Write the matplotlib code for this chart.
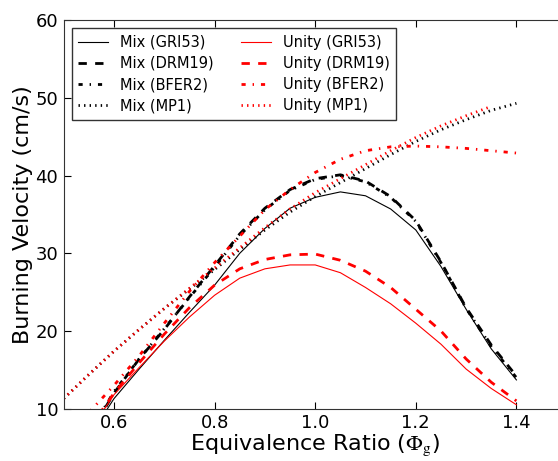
import matplotlib
matplotlib.use('Agg')
import matplotlib.pyplot as plt

# equivalence ratio grid
phi = [0.55, 0.60, 0.65, 0.70, 0.75, 0.80, 0.85, 0.90, 0.95, 1.00,
       1.05, 1.10, 1.15, 1.20, 1.25, 1.30, 1.35, 1.40]

# Mixture-averaged transport
mix_gri53 = [6.3, 11.3, 15.1, 18.8, 22.4, 25.9, 30.0, 33.2, 35.8, 37.2,
             37.9, 37.4, 35.7, 33.0, 28.3, 22.8, 17.7, 13.7]
mix_drm19 = [6.6, 12.0, 16.4, 20.2, 24.4, 28.4, 32.5, 35.8, 38.2, 39.6,
             40.1, 39.3, 37.3, 34.2, 28.9, 23.0, 18.2, 14.2]
mix_bfer2 = [6.8, 12.2, 16.4, 20.3, 24.3, 28.2, 32.3, 35.6, 38.1, 39.5,
             40.0, 39.2, 37.2, 34.1, 28.8, 22.9, 18.0, 14.0]
phi_mp1 = [0.50, 0.55, 0.60, 0.65, 0.70, 0.75, 0.80, 0.85, 0.90, 0.95,
           1.00, 1.05, 1.10, 1.15, 1.20, 1.25, 1.30, 1.35, 1.40]
mix_mp1 = [11.3, 14.4, 17.4, 20.2, 22.9, 25.4, 27.9, 30.5, 33.0, 35.3,
           37.3, 39.1, 40.9, 42.7, 44.4, 45.9, 47.2, 48.4, 49.3]

# Unity Lewis number
uni_gri53 = [7.0, 11.8, 15.3, 18.7, 21.8, 24.6, 26.8, 28.0, 28.5, 28.5,
             27.5, 25.6, 23.5, 21.0, 18.3, 15.1, 12.6, 10.5]
uni_drm19 = [7.4, 12.0, 15.9, 19.6, 23.0, 25.9, 28.0, 29.2, 29.8, 29.9,
             29.1, 27.7, 25.6, 22.8, 20.0, 16.4, 13.4, 11.0]
uni_bfer2 = [9.5, 13.0, 16.8, 21.0, 25.1, 28.8, 32.2, 35.6, 38.2, 40.4,
             42.1, 43.2, 43.7, 43.8, 43.7, 43.5, 43.2, 42.9]
phi_ump1 = phi_mp1[:-1]
uni_mp1 = [11.3, 14.4, 17.4, 20.2, 22.9, 25.5, 28.1, 30.7, 33.3, 35.7,
           37.8, 39.6, 41.4, 43.2, 44.9, 46.4, 47.7, 48.9]

plt.rcParams['mathtext.fontset'] = 'stix'
plt.rcParams['lines.scale_dashes'] = False
dashed = (0, (6, 6))
dashdot = (0, (3, 5, 1, 5))
dotted = (0, (1, 3))

fig = plt.figure(figsize=(5.58, 4.61), dpi=100)
ax = fig.add_axes([0.1142, 0.1135, 0.9014, 0.8427])

ax.plot(phi, mix_gri53, color='k', lw=0.8, label='Mix (GRI53)')
ax.plot(phi, mix_drm19, color='k', lw=2, ls=dashed, label='Mix (DRM19)')
ax.plot(phi, mix_bfer2, color='k', lw=2, ls=dashdot, label='Mix (BFER2)')
ax.plot(phi_mp1, mix_mp1, color='k', lw=2, ls=dotted, label='Mix (MP1)')
ax.plot(phi, uni_gri53, color='r', lw=0.8, label='Unity (GRI53)')
ax.plot(phi, uni_drm19, color='r', lw=2, ls=dashed, label='Unity (DRM19)')
ax.plot(phi, uni_bfer2, color='r', lw=2, ls=dashdot, label='Unity (BFER2)')
ax.plot(phi_ump1, uni_mp1, color='r', lw=2, ls=dotted, label='Unity (MP1)')

ax.set_xlim(0.5, 1.5)
ax.set_ylim(10, 60)
ax.set_xticks([0.6, 0.8, 1.0, 1.2, 1.4])
ax.set_yticks([10, 20, 30, 40, 50, 60])
ax.tick_params(direction='in', top=True, right=True, labelsize=13, length=5, pad=4)
for s in ax.spines.values():
    s.set_color('#333333')
ax.set_xlabel(r'Equivalence Ratio ($\Phi_{\rm g}$)', fontsize=16, labelpad=0)
ax.set_ylabel('Burning Velocity (cm/s)', fontsize=16, labelpad=2)

leg = ax.legend(loc='upper left', ncol=2, fontsize=10.5, frameon=True, fancybox=False,
                handlelength=2.05, handletextpad=0.8, columnspacing=1.9,
                borderpad=0.45, labelspacing=0.42, borderaxespad=0.55)
leg.get_frame().set_edgecolor('k')
leg.get_frame().set_linewidth(1.0)

fig.savefig('out.png', dpi=100)
